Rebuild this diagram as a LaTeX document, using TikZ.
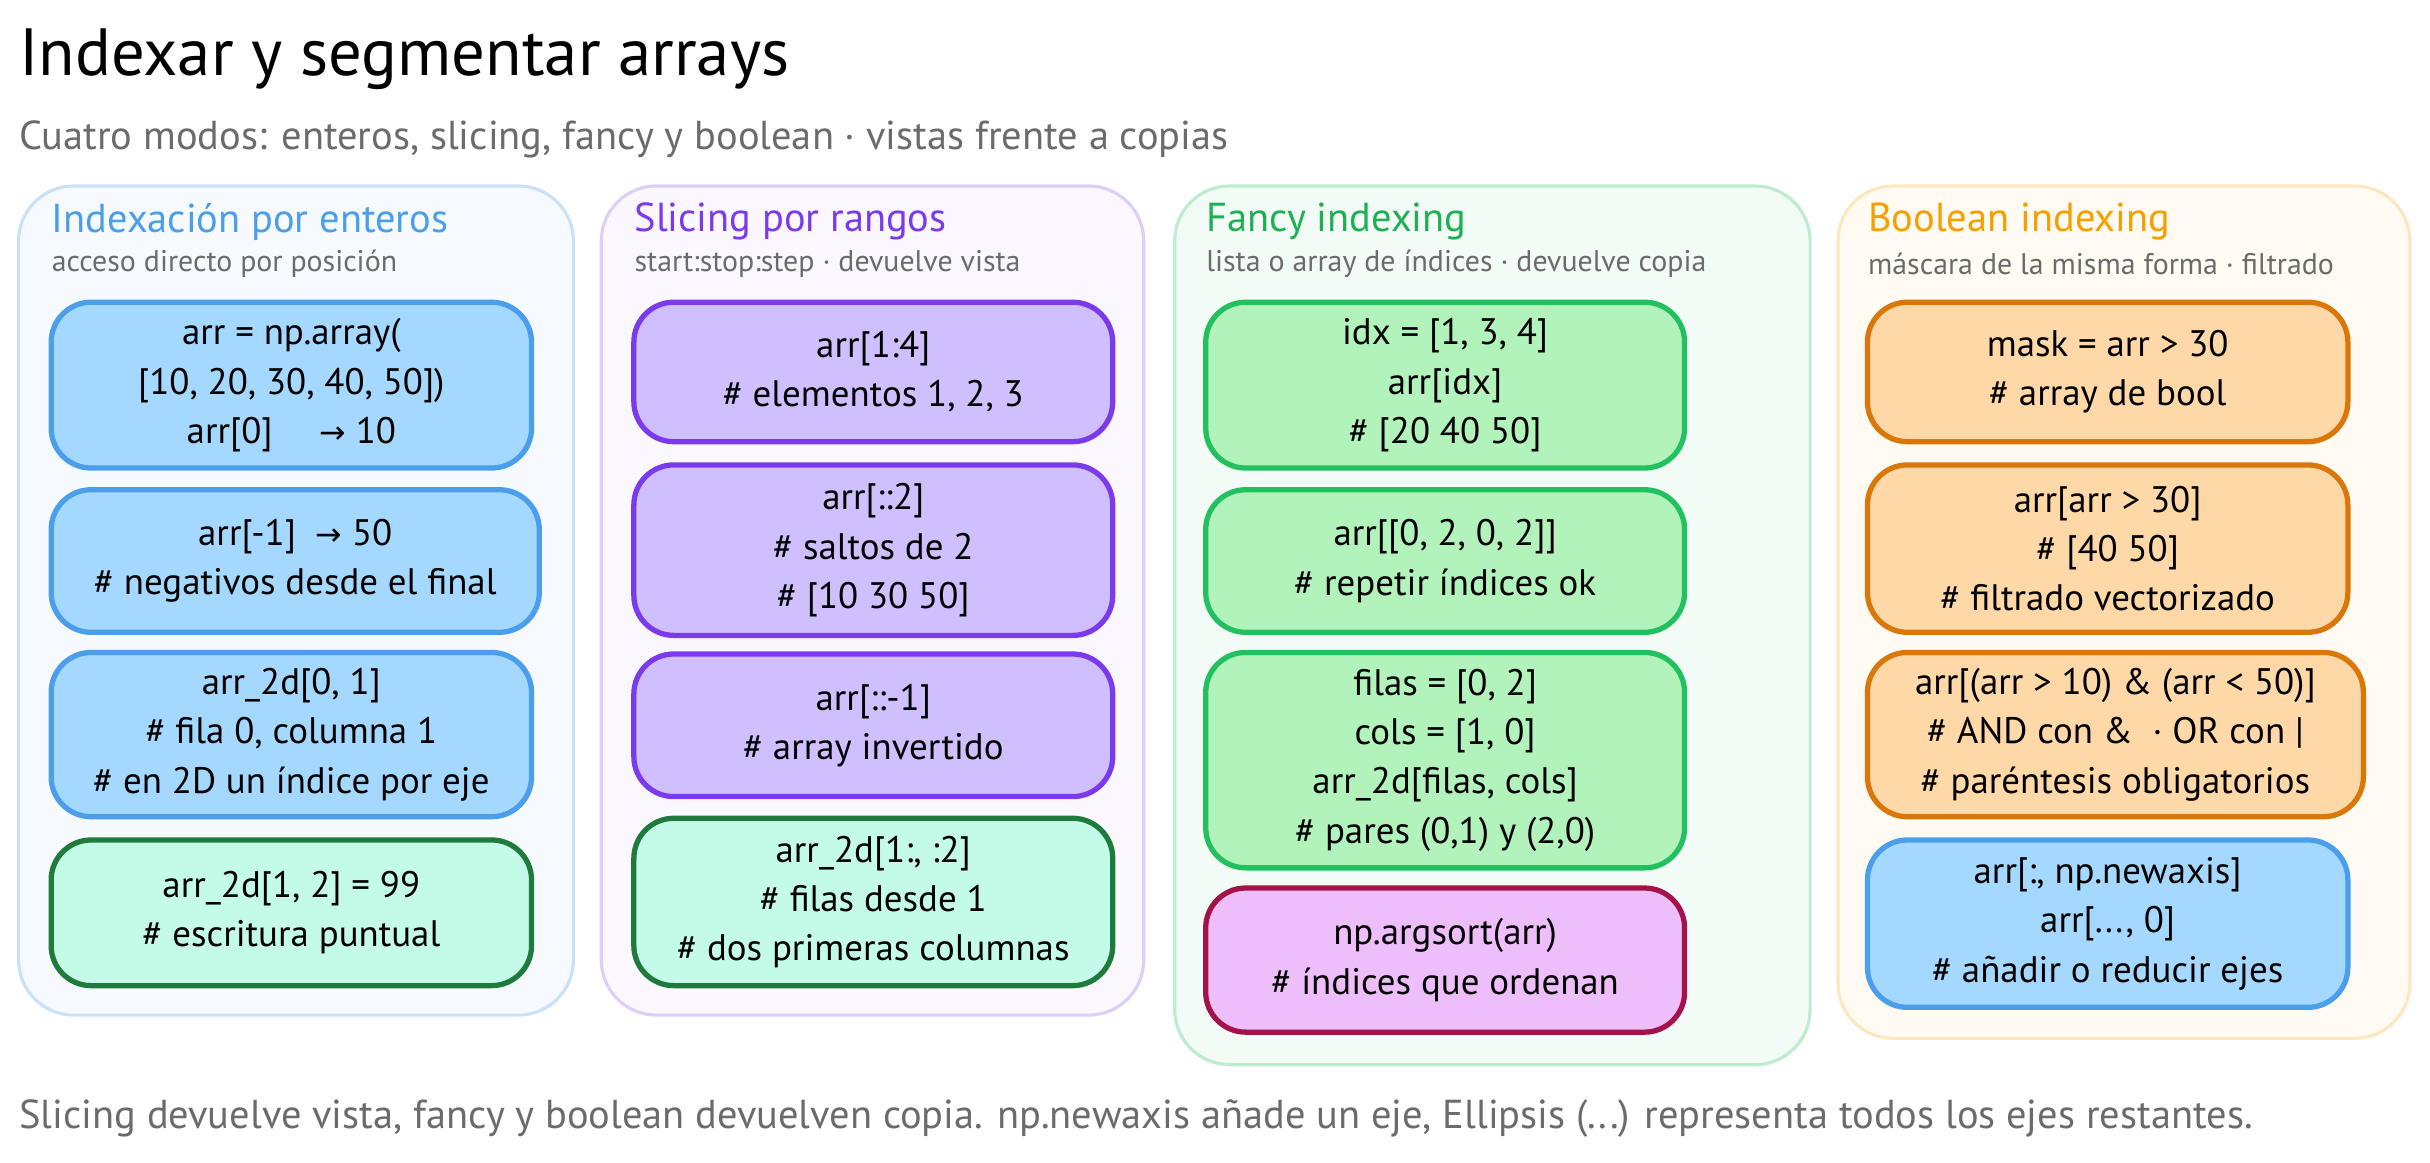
\documentclass[tikz,border=0pt]{standalone}
\usepackage{fontspec}
\setmainfont{PT Sans}
\newfontfamily\arrowfont{DejaVu Sans}
\newcommand{\ar}{{\arrowfont\fontsize{9}{10}\selectfont →}}
\usetikzlibrary{fit}
\definecolor{bluefill}{HTML}{A5D8FF}\definecolor{blueline}{HTML}{4A9EEA}
\definecolor{purfill}{HTML}{D0BFFF}\definecolor{purline}{HTML}{7C3AED}
\definecolor{grnfill}{HTML}{B2F2BB}\definecolor{grnline}{HTML}{22C05E}
\definecolor{orgfill}{HTML}{FFD8A8}\definecolor{orgline}{HTML}{D9770A}
\definecolor{mintfill}{HTML}{C3FAE8}\definecolor{mintline}{HTML}{1E7B3C}
\definecolor{pinkfill}{HTML}{EEBEFA}\definecolor{pinkline}{HTML}{A3134A}
\definecolor{bluetitle}{HTML}{4A9EEA}\definecolor{purtitle}{HTML}{7C3AED}
\definecolor{grntitle}{HTML}{1EB052}\definecolor{orgtitle}{HTML}{F59F00}
\definecolor{greytext}{HTML}{6B6B6B}
\tikzset{
  panel/.style={draw=#1, line width=0.9pt, rounded corners=0.55cm, inner sep=0pt},
  box/.style={line width=1.5pt, rounded corners=0.4cm, inner sep=0pt},
  txt/.style={align=center, font=\fontsize{10.5}{14}\selectfont},
  ptitle/.style={anchor=west, inner sep=0pt, font=\fontsize{11.5}{13}\selectfont},
  psub/.style={anchor=west, inner sep=0pt, text=greytext, font=\fontsize{8.5}{10}\selectfont},
}
\begin{document}
\begin{tikzpicture}[x=0.0155cm, y=-0.0155cm]
	\useasboundingbox (0,0) rectangle (1568,750);
	\node[anchor=west, inner sep=0pt, font=\fontsize{19}{22}\selectfont] (title) at (12,38) {Indexar y segmentar arrays};
	\node[anchor=west, inner sep=0pt, text=greytext, font=\fontsize{11.5}{13}\selectfont] (sub) at (12,90) {Cuatro modos: enteros, slicing, fancy y boolean · vistas frente a copias};
	%
	\node[panel=blueline!30, fill=blueline!5, fit={(12,120) (370,655)}] (p1) {};
	\node[panel=purline!25, fill=purline!4, fit={(388,120) (738,655)}] (p2) {};
	\node[panel=grnline!30, fill=grnline!6, fit={(758,120) (1168,687)}] (p3) {};
	\node[panel=orgtitle!25, fill=orgtitle!5, fit={(1186,120) (1555,670)}] (p4) {};
	%
	\node[ptitle, text=bluetitle] (t1) at (33,143) {Indexación por enteros};
	\node[psub] (s1) at (33,170) {acceso directo por posición};
	\node[ptitle, text=purtitle] (t2) at (409,143) {Slicing por rangos};
	\node[psub] (s2) at (409,170) {start:stop:step · devuelve vista};
	\node[ptitle, text=grntitle] (t3) at (778,143) {Fancy indexing};
	\node[psub] (s3) at (778,170) {lista o array de índices · devuelve copia};
	\node[ptitle, text=orgtitle] (t4) at (1205,143) {Boolean indexing};
	\node[psub] (s4) at (1205,170) {máscara de la misma forma · filtrado};
	%
	\node[box, draw=blueline, fill=bluefill, fit={(33,195) (343,302)}] (a1) {};
	\node[txt] at (a1) {arr = np.array(\\{[10, 20, 30, 40, 50])}\\arr[0] \quad \ar\ 10};
	\node[box, draw=blueline, fill=bluefill, fit={(33,316) (348,408)}] (a2) {};
	\node[txt] at (a2) {arr[-1] \ \ar\ 50\\\# negativos desde el final};
	\node[box, draw=blueline, fill=bluefill, fit={(33,421) (343,527)}] (a3) {};
	\node[txt] at (a3) {arr\_2d[0, 1]\\\# fila 0, columna 1\\\# en 2D un índice por eje};
	\node[box, draw=mintline, fill=mintfill, fit={(33,542) (343,636)}] (a4) {};
	\node[txt] at (a4) {arr\_2d[1, 2] = 99\\\# escritura puntual};
	%
	\node[box, draw=purline, fill=purfill, fit={(409,195) (718,285)}] (b1) {};
	\node[txt] at (b1) {arr[1:4]\\\# elementos 1, 2, 3};
	\node[box, draw=purline, fill=purfill, fit={(409,300) (718,410)}] (b2) {};
	\node[txt] at (b2) {arr[::2]\\\# saltos de 2\\\# [10 30 50]};
	\node[box, draw=purline, fill=purfill, fit={(409,422) (718,514)}] (b3) {};
	\node[txt] at (b3) {arr[::-1]\\\# array invertido};
	\node[box, draw=mintline, fill=mintfill, fit={(409,528) (718,636)}] (b4) {};
	\node[txt] at (b4) {arr\_2d[1:, :2]\\\# filas desde 1\\\# dos primeras columnas};
	%
	\node[box, draw=grnline, fill=grnfill, fit={(778,195) (1087,302)}] (c1) {};
	\node[txt] at (c1) {idx = [1, 3, 4]\\arr[idx]\\\# [20 40 50]};
	\node[box, draw=grnline, fill=grnfill, fit={(778,316) (1087,408)}] (c2) {};
	\node[txt] at (c2) {arr[[0, 2, 0, 2]]\\\# repetir índices ok};
	\node[box, draw=grnline, fill=grnfill, fit={(778,421) (1087,560)}] (c3) {};
	\node[txt] at (c3) {filas = [0, 2]\\cols = [1, 0]\\arr\_2d[filas, cols]\\\# pares (0,1) y (2,0)};
	\node[box, draw=pinkline, fill=pinkfill, fit={(778,573) (1087,666)}] (c4) {};
	\node[txt] at (c4) {np.argsort(arr)\\\# índices que ordenan};
	%
	\node[box, draw=orgline, fill=orgfill, fit={(1205,195) (1515,285)}] (d1) {};
	\node[txt] at (d1) {mask = arr > 30\\\# array de bool};
	\node[box, draw=orgline, fill=orgfill, fit={(1205,300) (1515,408)}] (d2) {};
	\node[txt] at (d2) {arr[arr > 30]\\\# [40 50]\\\# filtrado vectorizado};
	\node[box, draw=orgline, fill=orgfill, fit={(1205,421) (1525,527)}] (d3) {};
	\node[txt] at (d3) {arr[(arr > 10) \& (arr < 50)]\\\# AND con \& \ · OR con |\\\# paréntesis obligatorios};
	\node[box, draw=blueline, fill=bluefill, fit={(1205,542) (1515,650)}] (d4) {};
	\node[txt] at (d4) {arr[:, np.newaxis]\\arr[..., 0]\\\# añadir o reducir ejes};
	%
	\node[anchor=west, inner sep=0pt, text=greytext, font=\fontsize{11.5}{13}\selectfont] (foot) at (12,722) {Slicing devuelve vista, fancy y boolean devuelven copia. np.newaxis añade un eje, Ellipsis (...) representa todos los ejes restantes.};
\end{tikzpicture}
\end{document}
